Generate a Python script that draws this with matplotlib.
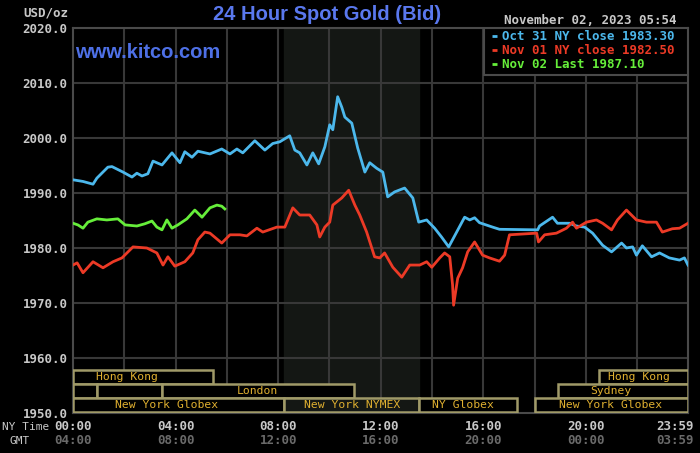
import numpy as np
import matplotlib
matplotlib.use("Agg")
import matplotlib.pyplot as plt
import matplotlib.transforms as mtransforms

# --- Données (heures NY, prix USD/oz) ---
oct31_h = [0.00, 0.39, 0.78, 0.93, 1.36, 1.52, 1.95, 2.30, 2.49, 2.69, 2.92, 3.12,
           3.47, 3.86, 4.17, 4.36, 4.64, 4.87, 5.34, 5.80, 6.12, 6.39, 6.62, 7.09,
           7.48, 7.79, 8.06, 8.45, 8.65, 8.84, 9.12, 9.35, 9.58, 9.82, 10.01, 10.13,
           10.32, 10.48, 10.60, 10.87, 11.10, 11.38, 11.57, 11.84, 12.08, 12.27, 12.54,
           12.93, 13.25, 13.48, 13.79, 14.10, 14.37, 14.65, 14.96, 15.27, 15.47, 15.66,
           15.85, 16.36, 16.63, 18.12, 18.19, 18.70, 18.89, 19.36, 19.63, 19.95, 20.26,
           20.65, 21.00, 21.39, 21.58, 21.82, 21.97, 22.20, 22.56, 22.87, 23.25, 23.65,
           23.84, 23.98]
oct31_v = [1992.4, 1992.1, 1991.6, 1992.7, 1994.7, 1994.8, 1993.8, 1992.9, 1993.6, 1993.1,
           1993.5, 1995.8, 1995.1, 1997.3, 1995.5, 1997.5, 1996.5, 1997.6, 1997.1, 1998.0,
           1997.1, 1998.0, 1997.3, 1999.5, 1997.8, 1999.0, 1999.3, 2000.4, 1997.8, 1997.3,
           1995.1, 1997.3, 1995.3, 1998.4, 2002.4, 2001.5, 2007.5, 2005.6, 2003.8, 2002.7,
           1998.2, 1993.8, 1995.5, 1994.5, 1993.8, 1989.3, 1990.2, 1990.9, 1989.1, 1984.7,
           1985.1, 1983.6, 1982.0, 1980.2, 1982.9, 1985.6, 1985.1, 1985.5, 1984.6, 1983.8,
           1983.4, 1983.3, 1984.0, 1985.6, 1984.5, 1984.5, 1984.0, 1983.8, 1982.7, 1980.5,
           1979.3, 1980.9, 1980.0, 1980.2, 1978.7, 1980.4, 1978.4, 1979.1, 1978.2, 1977.8,
           1978.2, 1976.9]

nov01_h = [0.00, 0.16, 0.39, 0.78, 1.17, 1.56, 1.91, 2.34, 2.88, 3.27, 3.51, 3.70,
           3.97, 4.36, 4.67, 4.87, 5.14, 5.34, 5.80, 6.12, 6.51, 6.78, 7.17, 7.40,
           7.95, 8.26, 8.57, 8.84, 9.23, 9.51, 9.62, 9.82, 10.01, 10.13, 10.48, 10.75,
           10.99, 11.18, 11.45, 11.76, 11.96, 12.15, 12.47, 12.82, 13.13, 13.52, 13.79,
           13.99, 14.30, 14.49, 14.69, 14.80, 14.84, 15.00, 15.19, 15.39, 15.66, 15.97,
           16.24, 16.63, 16.83, 17.02, 18.08, 18.15, 18.39, 18.85, 19.24, 19.48, 19.63,
           20.02, 20.41, 20.65, 21.00, 21.23, 21.58, 21.97, 22.36, 22.75, 22.98, 23.37,
           23.65, 23.98]
nov01_v = [1976.9, 1977.3, 1975.5, 1977.5, 1976.4, 1977.5, 1978.2, 1980.2, 1980.0, 1979.1,
           1976.9, 1978.4, 1976.7, 1977.5, 1979.1, 1981.5, 1982.9, 1982.7, 1980.9, 1982.4,
           1982.4, 1982.2, 1983.6, 1982.9, 1983.8, 1983.8, 1987.3, 1986.0, 1986.0, 1984.2,
           1982.0, 1983.8, 1984.7, 1987.8, 1989.1, 1990.5, 1987.8, 1986.0, 1982.9, 1978.4,
           1978.2, 1979.1, 1976.5, 1974.7, 1976.9, 1976.9, 1977.5, 1976.5, 1978.2, 1979.1,
           1978.4, 1973.3, 1969.6, 1974.5, 1976.4, 1979.3, 1981.1, 1978.7, 1978.2, 1977.6,
           1978.7, 1982.4, 1982.7, 1981.1, 1982.4, 1982.7, 1983.6, 1984.7, 1983.6, 1984.7,
           1985.1, 1984.5, 1983.3, 1985.1, 1986.9, 1985.1, 1984.7, 1984.7, 1982.9, 1983.5,
           1983.6, 1984.5]

nov02_h = [0.00, 0.19, 0.39, 0.58, 0.93, 1.32, 1.75, 2.03, 2.49, 2.80, 3.08, 3.27,
           3.47, 3.66, 3.86, 4.09, 4.44, 4.75, 5.03, 5.34, 5.61, 5.80, 5.92]
nov02_v = [1984.5, 1984.2, 1983.6, 1984.7, 1985.3, 1985.1, 1985.3, 1984.2, 1984.0, 1984.4,
           1984.9, 1983.8, 1983.3, 1985.1, 1983.6, 1984.2, 1985.3, 1986.9, 1985.6, 1987.3,
           1987.8, 1987.6, 1987.1]

legende = ["Oct 31 NY close 1983.30", "Nov 01 NY close 1982.50", "Nov 02 Last 1987.10"]
couleurs = ["#4cb8ec", "#ec3a26", "#66ee3a"]

ny_ticks = ["00:00", "04:00", "08:00", "12:00", "16:00", "20:00"]
gmt_ticks = ["04:00", "08:00", "12:00", "16:00", "20:00", "00:00"]

# Sessions : (rangée, début, fin, libellé, position du libellé) en heures NY
sessions = [
    (0, 0.00, 5.45, "Hong Kong", 2.1),
    (0, 20.50, 23.98, "Hong Kong", 22.05),
    (1, 0.00, 0.93, "", 0),
    (1, 0.93, 3.47, "", 0),
    (1, 3.47, 10.95, "London", 7.17),
    (1, 18.93, 23.98, "Sydney", 20.96),
    (2, 0.00, 8.22, "New York Globex", 3.66),
    (2, 8.22, 13.5, "New York NYMEX", 10.87),
    (2, 13.5, 17.3, "NY Globex", 15.2),
    (2, 18.0, 23.98, "New York Globex", 20.96),
]
nymex = (8.22, 13.5)

mono = "DejaVu Sans Mono"
gris = "#c8c8c8"

fig = plt.figure(figsize=(7, 4.53), dpi=100, facecolor="black")
ax = fig.add_axes([73 / 700, 1 - 413 / 453, 615 / 700, 385 / 453], facecolor="black")

ax.set_xlim(0, 23.98)
ax.set_ylim(1950, 2020)

# zone NYMEX
ax.axvspan(nymex[0], nymex[1], color="#141714", zorder=0)

# grille
for h in range(2, 24, 2):
    ax.axvline(h, color="#383838", lw=1.5, zorder=1)
for v in range(1960, 2020, 10):
    ax.axhline(v, color="#383838", lw=1.5, zorder=1)

for s in ax.spines.values():
    s.set_color("#4a4a4a")
    s.set_linewidth(1.5)

# courbes
ax.plot(oct31_h, oct31_v, color=couleurs[0], lw=2, zorder=3)
ax.plot(nov01_h, nov01_v, color=couleurs[1], lw=2, zorder=3)
ax.plot(nov02_h, nov02_v, color=couleurs[2], lw=2, zorder=3)

# sessions de marché
trans = mtransforms.blended_transform_factory(ax.transData, ax.transAxes)
rangs = [0.1117, 0.0753, 0.0390]
haut = 0.0364
for r, d, f, nom, pos in sessions:
    fond = "#141714" if d >= nymex[0] and f <= nymex[1] else "black"
    rect = plt.Rectangle((d, rangs[r] - haut), f - d, haut, transform=trans,
                         facecolor=fond, edgecolor="#a09a68", lw=1.8, zorder=4)
    ax.add_patch(rect)
    if nom:
        ax.text(pos, rangs[r] - haut / 2, nom, transform=trans, ha="center", va="center",
                color="#e0b030", fontsize=8.2, family=mono, zorder=5)

# axes
ax.set_yticks(range(1950, 2021, 10))
ax.set_yticklabels([f"{v:.1f}" for v in range(1950, 2021, 10)], family=mono,
                   fontsize=9, color=gris, fontweight="bold")
ax.tick_params(axis="y", length=0, pad=4)
ax.set_xticks([])

for i, (a, b) in enumerate(zip(ny_ticks, gmt_ticks)):
    ax.text(4 * i, -0.035, a, transform=trans, ha="center", va="center", family=mono,
            fontsize=9, color=gris, fontweight="bold")
    ax.text(4 * i, -0.072, b, transform=trans, ha="center", va="center", family=mono,
            fontsize=9, color="#6a6a6a", fontweight="bold")
ax.text(1.01, -0.035, "23:59", transform=ax.transAxes, ha="right", va="center",
        family=mono, fontsize=9, color=gris, fontweight="bold")
ax.text(1.01, -0.072, "03:59", transform=ax.transAxes, ha="right", va="center",
        family=mono, fontsize=9, color="#6a6a6a", fontweight="bold")
fig.text(2 / 700, 1 - 427 / 453, "NY Time", ha="left", va="center", family=mono,
         fontsize=8, color=gris)
fig.text(20 / 700, 1 - 441 / 453, "GMT", ha="center", va="center", family=mono,
         fontsize=8, color=gris)
fig.text(68 / 700, 1 - 13 / 453, "USD/oz", ha="right", va="center", family=mono,
         fontsize=9, color=gris, fontweight="bold")

# titres
fig.text(327 / 700, 1 - 15 / 453, "24 Hour Spot Gold (Bid)", ha="center", va="center",
         color="#5a78ee", fontsize=14.5, family="Liberation Sans", fontweight="bold")
ax.text(75 / 700, 1 - 52 / 453, "www.kitco.com", transform=fig.transFigure, ha="left",
        va="center", color="#4e70e6", fontsize=14.5, family="Liberation Sans",
        fontweight="bold", zorder=6)
fig.text(677 / 700, 1 - 20 / 453, "November 02, 2023 05:54", ha="right", va="center",
         family=mono, fontsize=9, color=gris, fontweight="bold")

# légende
lx0 = (484 - 73) / 615
leg = plt.Rectangle((lx0, 1 - 47 / 385), 1 - lx0, 47 / 385, transform=ax.transAxes,
                    facecolor="black", edgecolor="#4a4a4a", lw=1.5, zorder=6)
ax.add_patch(leg)
for i, (txt, c) in enumerate(zip(legende, couleurs)):
    y = 1 - (8 + 14 * i) / 385
    ax.text((502 - 73) / 615, y, txt, transform=ax.transAxes, ha="left", va="center",
            family=mono, fontsize=9, color=c, fontweight="bold", zorder=7)
    ax.plot([(492 - 73) / 615, (497 - 73) / 615], [y, y], transform=ax.transAxes,
            color=c, lw=2, zorder=7, solid_capstyle="butt")

fig.savefig("out.png", dpi=100, facecolor="black")
